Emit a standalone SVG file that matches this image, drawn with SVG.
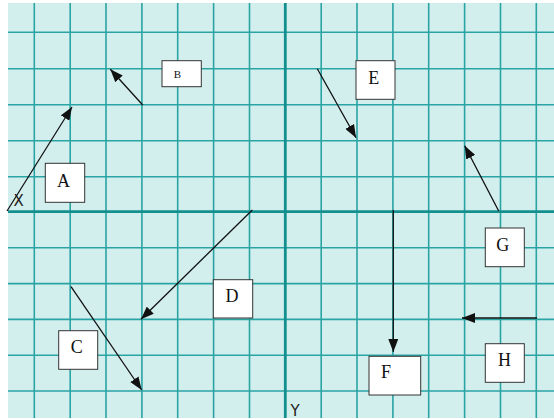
<svg xmlns="http://www.w3.org/2000/svg" width="554" height="419" viewBox="0 0 554 419">
<defs>
<style>
.grid line{stroke:#2aa3a3;stroke-width:1.6}
.grid line.axis{stroke:#138f8e;stroke-width:2.8}
.conn line{stroke:#111;stroke-width:1.3;marker-end:url(#ah)}
.box rect{fill:#fff;stroke:#333;stroke-width:1}
.box text{font-family:"Liberation Serif",serif;font-size:18px;fill:#111;text-anchor:middle}
.ax{font-family:"DejaVu Sans",sans-serif;font-size:15px;fill:#222}
</style>
<marker id="ah" markerUnits="userSpaceOnUse" markerWidth="14" markerHeight="10" refX="13" refY="5" orient="auto">
<path d="M0,0 L13,5 L0,10 Z" fill="#111"/>
</marker>
</defs>
<rect x="0" y="0" width="554" height="419" fill="#fff"/>
<rect x="8" y="3" width="546" height="415" fill="#d2efee"/>
<g class="grid">
<line x1="34.3" y1="3" x2="34.3" y2="418"/>
<line x1="70.2" y1="3" x2="70.2" y2="418"/>
<line x1="106" y1="3" x2="106" y2="418"/>
<line x1="141.9" y1="3" x2="141.9" y2="418"/>
<line x1="177.7" y1="3" x2="177.7" y2="418"/>
<line x1="213.6" y1="3" x2="213.6" y2="418"/>
<line x1="249.5" y1="3" x2="249.5" y2="418"/>
<line x1="321.2" y1="3" x2="321.2" y2="418"/>
<line x1="357" y1="3" x2="357" y2="418"/>
<line x1="392.9" y1="3" x2="392.9" y2="418"/>
<line x1="428.7" y1="3" x2="428.7" y2="418"/>
<line x1="464.6" y1="3" x2="464.6" y2="418"/>
<line x1="500.5" y1="3" x2="500.5" y2="418"/>
<line x1="536.3" y1="3" x2="536.3" y2="418"/>
<line x1="8" y1="32.3" x2="554" y2="32.3"/>
<line x1="8" y1="68.8" x2="554" y2="68.8"/>
<line x1="8" y1="104.8" x2="554" y2="104.8"/>
<line x1="8" y1="140.8" x2="554" y2="140.8"/>
<line x1="8" y1="176.7" x2="554" y2="176.7"/>
<line x1="8" y1="247.8" x2="554" y2="247.8"/>
<line x1="8" y1="283.6" x2="554" y2="283.6"/>
<line x1="8" y1="319.4" x2="554" y2="319.4"/>
<line x1="8" y1="355.2" x2="554" y2="355.2"/>
<line x1="8" y1="391" x2="554" y2="391"/>
<line class="axis" x1="8" y1="211.7" x2="554" y2="211.7"/>
<line class="axis" x1="285.3" y1="3" x2="285.3" y2="418"/>
</g>
<text class="ax" x="13.5" y="205.5">X</text>
<text class="ax" x="290.5" y="415.5">Y</text>
<g class="conn">
<line x1="7" y1="211" x2="72" y2="107"/>
<line x1="142.7" y1="105" x2="110.3" y2="69.3"/>
<line x1="317.3" y1="68.7" x2="356" y2="137.7"/>
<line x1="498.7" y1="211" x2="464.7" y2="145.7"/>
<line x1="252.3" y1="210" x2="141" y2="319.3"/>
<line x1="71" y1="286.7" x2="141.7" y2="390"/>
<line x1="393.3" y1="210" x2="393.3" y2="352"/>
<line x1="537" y1="318" x2="462" y2="318"/>
</g>
<g id="node-A" class="box"><rect x="45.3" y="163.3" width="39.4" height="39"/><text x="63.5" y="187">A</text></g>
<g id="node-B" class="box"><rect x="162" y="60.7" width="39.3" height="26"/><text x="177.5" y="77.5" style="font-size:11px">B</text></g>
<g id="node-E" class="box"><rect x="356" y="60.7" width="39" height="38.6"/><text x="373.7" y="84">E</text></g>
<g id="node-D" class="box"><rect x="213.3" y="279.7" width="39.4" height="38.3"/><text x="232" y="302">D</text></g>
<g id="node-C" class="box"><rect x="58.7" y="330.7" width="39" height="38.6"/><text x="76.7" y="353">C</text></g>
<g id="node-G" class="box"><rect x="485.3" y="228" width="39" height="38.7"/><text x="502.8" y="250.7">G</text></g>
<g id="node-F" class="box"><rect x="369" y="356.3" width="51.7" height="38.7"/><text x="386" y="378.3">F</text></g>
<g id="node-H" class="box"><rect x="485.3" y="343.7" width="39" height="38.6"/><text x="504.5" y="366">H</text></g>
</svg>
